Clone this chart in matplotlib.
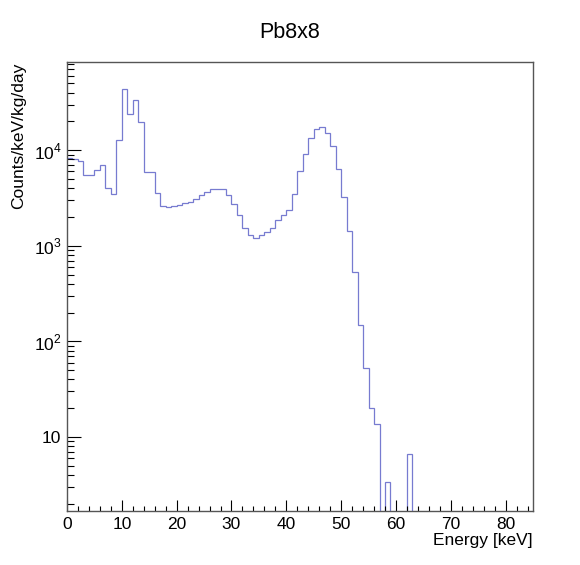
import numpy as np
import matplotlib
matplotlib.use('Agg')
import matplotlib.pyplot as plt
from matplotlib.ticker import MultipleLocator, LogLocator, FuncFormatter, NullFormatter

plt.rcParams['font.family'] = ['Liberation Sans', 'DejaVu Sans']
plt.rcParams['mathtext.fontset'] = 'custom'
plt.rcParams['mathtext.rm'] = 'Liberation Sans'

# histogram: 1 keV bins from 0 to 85 keV
bin_edges = np.arange(0, 86, 1)
counts = [
    8300, 8100, 7700, 5470, 5550, 6170, 6970, 4030, 3515, 12730,     # 0-9
    43500, 24200, 33400, 19800, 5930, 5930, 3570, 2600, 2550, 2600,  # 10-19
    2700, 2800, 2900, 3050, 3380, 3670, 3900, 3970, 3950, 3380,      # 20-29
    2720, 2090, 1535, 1310, 1210, 1310, 1395, 1535, 1850, 2090,      # 30-39
    2355, 3515, 6070, 9230, 13450, 16500, 17540, 15300, 11000, 6430, # 40-49
    3200, 1430, 532, 147, 53, 20, 13.5, 0, 3.4, 0,                   # 50-59
    0, 0, 6.6, 0, 0, 0, 0, 0, 0, 0,                                  # 60-69
    0, 0, 0, 0, 0, 0, 0, 0, 0, 0,                                    # 70-79
    0, 0, 0, 0, 0,                                                   # 80-84
]
title = 'Pb8x8'
xlabel = 'Energy [keV]'
ylabel = 'Counts/keV/kg/day'

fig = plt.figure(figsize=(5.8, 5.65), dpi=100)
ax = fig.add_axes([0.1155, 0.0956, 0.8035, 0.7944])

# empty bins drop below the axis floor, like ROOT does on log scale
vals = np.clip(np.array(counts, dtype=float), 1e-3, None)
ax.stairs(vals, bin_edges, baseline=None, color='#777bd0', linewidth=0.9)

ax.set_yscale('log')
ax.set_xlim(0, 85)
ax.set_ylim(1.68, 83400)

ax.xaxis.set_major_locator(MultipleLocator(10))
ax.xaxis.set_minor_locator(MultipleLocator(2))
ax.yaxis.set_major_locator(LogLocator(base=10, numticks=10))
ax.yaxis.set_minor_locator(LogLocator(base=10, subs=np.arange(2, 10), numticks=20))
ax.yaxis.set_minor_formatter(NullFormatter())


def log_label(v, pos):
    e = int(round(np.log10(v)))
    if e == 1:
        return '10'
    return r'$10^{%d}$' % e


ax.yaxis.set_major_formatter(FuncFormatter(log_label))

ax.tick_params(axis='both', which='both', direction='in', top=False, right=False,
               labelsize=12.5, colors='black', width=0.8)
ax.tick_params(axis='x', which='major', length=8, pad=4)
ax.tick_params(axis='x', which='minor', length=3.3)
ax.tick_params(axis='y', which='major', length=10, pad=4)
ax.tick_params(axis='y', which='minor', length=5)

for s in ax.spines.values():
    s.set_color('#555555')
    s.set_linewidth(1.0)

fig.text(0.5, 0.942, title, ha='center', va='center', fontsize=15.5)
ax.set_xlabel(xlabel, fontsize=12.5, loc='right', labelpad=1)
ax.set_ylabel(ylabel, fontsize=12.5, loc='top', labelpad=5)

fig.savefig('out.png', dpi=100, facecolor='white')
